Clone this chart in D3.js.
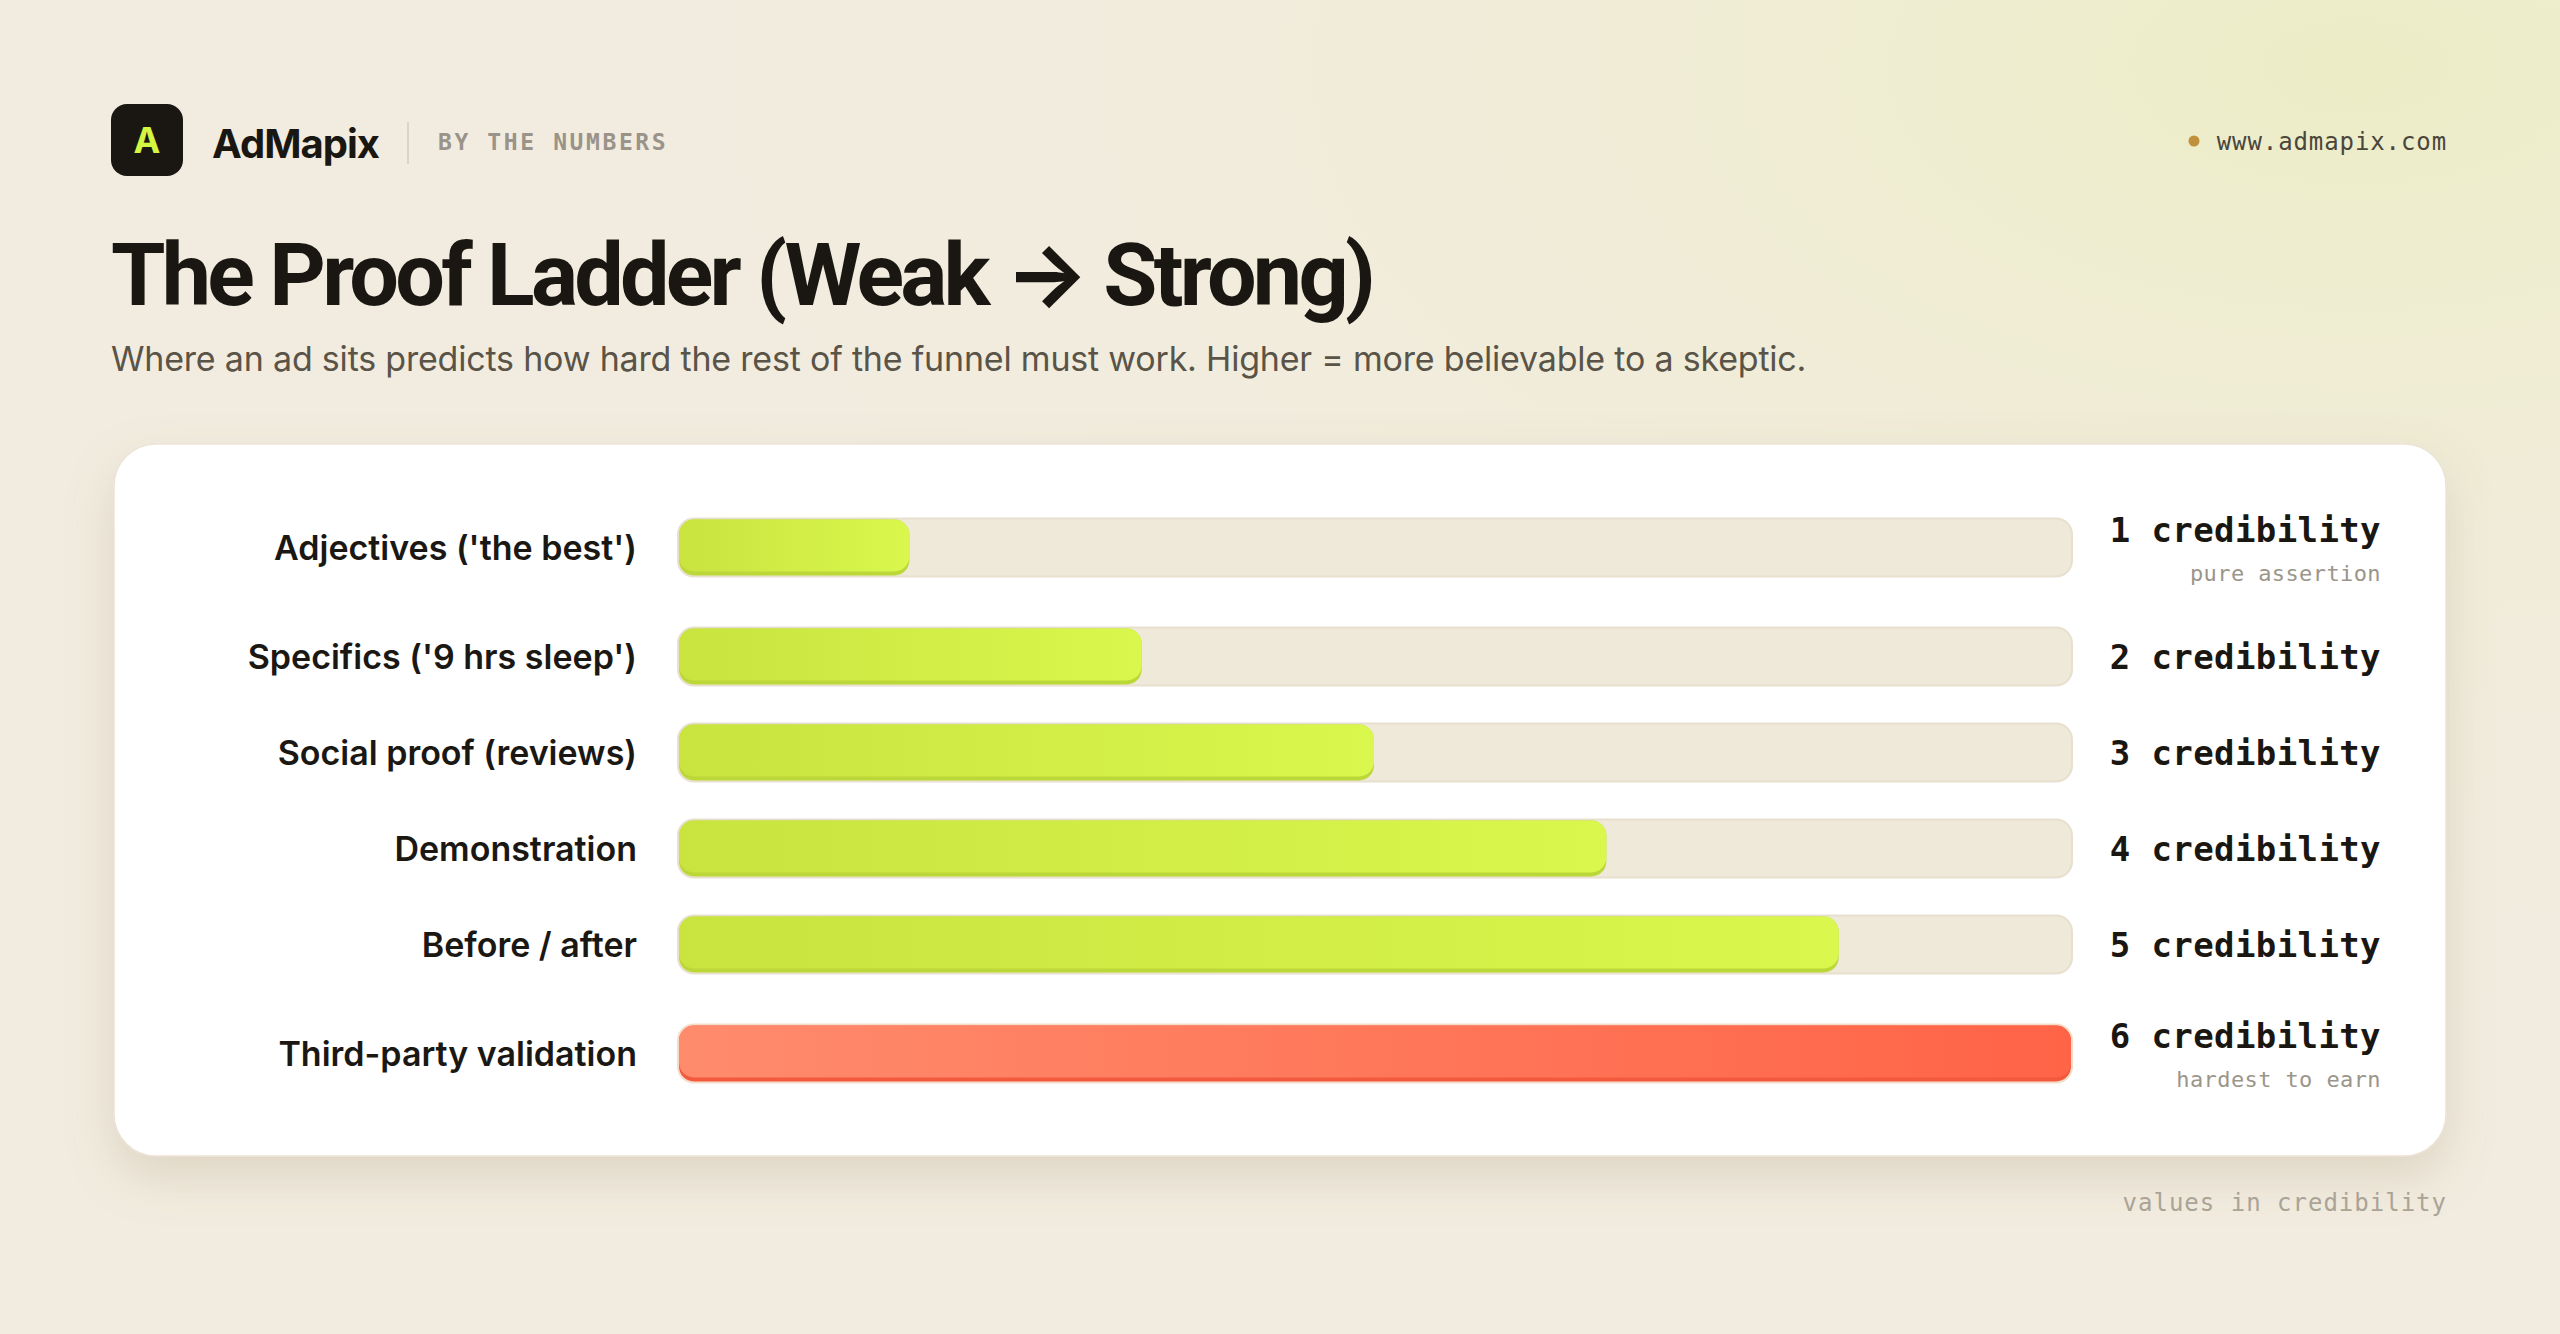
<!DOCTYPE html>
<html>
<head>
<meta charset="utf-8">
<script src="https://cdn.jsdelivr.net/npm/d3@7"></script>
<style>
  html, body { margin: 0; padding: 0; }
  body { width: 2560px; height: 1334px; overflow: hidden; background: #f2ece0; }
  svg { display: block; }
</style>
</head>
<body>
<script>
const width = 2560;
const height = 1334;

// chart data
const categories = [
  "Adjectives ('the best')",
  "Specifics ('9 hrs sleep')",
  "Social proof (reviews)",
  "Demonstration",
  "Before / after",
  "Third-party validation"
];
const values = [1, 2, 3, 4, 5, 6];
const notes = ["pure assertion", "", "", "", "", "hardest to earn"];
const highlight = [false, false, false, false, false, true];
const unit = "credibility";
const maxValue = 6;

const SANS = "Inter, 'Open Sans', sans-serif";
const NARROW = "Roboto, Inter, sans-serif";
const MONO = "'DejaVu Sans Mono', 'Liberation Mono', monospace";

const svg = d3.select("body").append("svg")
    .attr("width", width)
    .attr("height", height);

const defs = svg.append("defs");

// background wash, yellowish in the top right
const bgGrad = defs.append("radialGradient")
    .attr("id", "bgTint")
    .attr("cx", 0.92).attr("cy", 0.05).attr("r", 0.75);
bgGrad.append("stop").attr("offset", 0).attr("stop-color", "#ecedc6").attr("stop-opacity", 1);
bgGrad.append("stop").attr("offset", 1).attr("stop-color", "#f2ece0").attr("stop-opacity", 0);

const green = defs.append("linearGradient").attr("id", "fillGreen");
green.append("stop").attr("offset", 0).attr("stop-color", "#c9e33f");
green.append("stop").attr("offset", 1).attr("stop-color", "#d9f74d");

const red = defs.append("linearGradient").attr("id", "fillRed");
red.append("stop").attr("offset", 0).attr("stop-color", "#ff8b6d");
red.append("stop").attr("offset", 1).attr("stop-color", "#ff6447");

const shadow = defs.append("filter").attr("id", "cardShadow")
    .attr("x", -0.05).attr("y", -0.1).attr("width", 1.1).attr("height", 1.3);
shadow.append("feDropShadow")
    .attr("dx", 0).attr("dy", 20).attr("stdDeviation", 24)
    .attr("flood-color", "#8a7450").attr("flood-opacity", 0.2);

svg.append("rect").attr("width", width).attr("height", height).attr("fill", "#f2ece0");
svg.append("rect").attr("width", width).attr("height", height).attr("fill", "url(#bgTint)");

// squeeze a text element to a target width by letter spacing
function fitWidth(sel, target) {
  const node = sel.node();
  const n = sel.text().length;
  const w = node.getComputedTextLength();
  sel.attr("letter-spacing", ((target - w) / (n - 1)).toFixed(2));
}

// ---- header ----
const header = svg.append("g");
header.append("rect")
    .attr("x", 111).attr("y", 104).attr("width", 72).attr("height", 72)
    .attr("rx", 16).attr("fill", "#1a1712");
header.append("text")
    .attr("x", 147).attr("y", 153)
    .attr("text-anchor", "middle")
    .attr("font-family", SANS).attr("font-weight", 700).attr("font-size", 36)
    .attr("fill", "#d4f542")
    .text("A");
const brand = header.append("text")
    .attr("x", 212).attr("y", 158)
    .attr("font-family", SANS).attr("font-weight", 700).attr("font-size", 40)
    .attr("fill", "#1a1712")
    .text("AdMapix");
fitWidth(brand, 168);
header.append("line")
    .attr("x1", 408).attr("x2", 408).attr("y1", 122).attr("y2", 164)
    .attr("stroke", "#ddd5c4").attr("stroke-width", 2);
header.append("text")
    .attr("x", 438).attr("y", 150)
    .attr("font-family", MONO).attr("font-weight", 700).attr("font-size", 23)
    .attr("letter-spacing", 2.6)
    .attr("fill", "#9a938a")
    .text("BY THE NUMBERS");

header.append("circle")
    .attr("cx", 2194).attr("cy", 141).attr("r", 5.5)
    .attr("fill", "#c0913a");
header.append("text")
    .attr("x", 2447).attr("y", 150)
    .attr("text-anchor", "end")
    .attr("font-family", MONO).attr("font-size", 24)
    .attr("letter-spacing", 0.9)
    .attr("fill", "#4a463c")
    .text("www.admapix.com");

const title = svg.append("text")
    .attr("x", 111).attr("y", 305)
    .attr("font-family", NARROW).attr("font-weight", 700).attr("font-size", 88)
    .attr("fill", "#1a1712")
    .text("The Proof Ladder (Weak \u2192 Strong)");
fitWidth(title, 1265);

const subtitle = svg.append("text")
    .attr("x", 111).attr("y", 371)
    .attr("font-family", SANS).attr("font-weight", 400).attr("font-size", 34)
    .attr("fill", "#5a5448")
    .text("Where an ad sits predicts how hard the rest of the funnel must work. Higher = more believable to a skeptic.");
fitWidth(subtitle, 1695);

// ---- card ----
svg.append("rect")
    .attr("x", 114).attr("y", 444).attr("width", 2332).attr("height", 712)
    .attr("rx", 42)
    .attr("fill", "#ffffff")
    .attr("stroke", "#ebe4d6").attr("stroke-width", 1.5)
    .attr("filter", "url(#cardShadow)");

// row layout: rows with a note are taller
const ROW_H = 58, NOTE_H = 84, GAP = 38, FIRST_TOP = 505.5;
const tops = [];
categories.reduce((y, c, i) => {
  tops.push(y);
  return y + (notes[i] ? NOTE_H : ROW_H) + GAP;
}, FIRST_TOP);
const centers = tops.map((t, i) => t + (notes[i] ? NOTE_H : ROW_H) / 2);

const y = d3.scaleOrdinal(categories, centers);
const x = d3.scaleLinear([0, maxValue], [678, 2072]);

const rows = svg.append("g").selectAll("g")
    .data(categories.map((c, i) => ({ cat: c, value: values[i], note: notes[i], hot: highlight[i] })))
    .join("g")
    .attr("transform", d => `translate(0,${y(d.cat)})`);

rows.append("text")
    .attr("x", 637).attr("y", 12)
    .attr("text-anchor", "end")
    .attr("font-family", SANS).attr("font-weight", 600).attr("font-size", 34)
    .attr("letter-spacing", 0)
    .attr("fill", "#1b1813")
    .text(d => d.cat);

// track
rows.append("rect")
    .attr("x", x(0)).attr("y", -29)
    .attr("width", x(maxValue) - x(0)).attr("height", 58)
    .attr("rx", 16)
    .attr("fill", "#efe9da")
    .attr("stroke", d => d.hot ? "#f5dcc8" : "#e7e0cf").attr("stroke-width", 2);

// darker base of the fill shows as a bottom edge
rows.append("rect")
    .attr("x", x(0) + 1).attr("y", -28)
    .attr("width", d => x(d.value) - x(0) - 2).attr("height", 56)
    .attr("rx", 15)
    .attr("fill", d => d.hot ? "#f2593d" : "#bcd738");
rows.append("rect")
    .attr("x", x(0) + 1).attr("y", -28)
    .attr("width", d => x(d.value) - x(0) - 2).attr("height", 52)
    .attr("rx", 15)
    .attr("fill", d => d.hot ? "url(#fillRed)" : "url(#fillGreen)");

rows.append("text")
    .attr("x", 2381).attr("y", d => d.note ? -6 : 12)
    .attr("text-anchor", "end")
    .attr("font-family", MONO).attr("font-weight", 700).attr("font-size", 34)
    .attr("letter-spacing", 0.4)
    .attr("fill", "#1a1712")
    .text(d => `${d.value} ${unit}`);

rows.filter(d => d.note).append("text")
    .attr("x", 2381).attr("y", 33.5)
    .attr("text-anchor", "end")
    .attr("font-family", MONO).attr("font-size", 22)
    .attr("letter-spacing", 0.4)
    .attr("fill", "#9b958a")
    .text(d => d.note);

// footer
svg.append("text")
    .attr("x", 2447).attr("y", 1211)
    .attr("text-anchor", "end")
    .attr("font-family", MONO).attr("font-size", 24)
    .attr("letter-spacing", 1)
    .attr("fill", "#aaa396")
    .text(`values in ${unit}`);
</script>
</body>
</html>
